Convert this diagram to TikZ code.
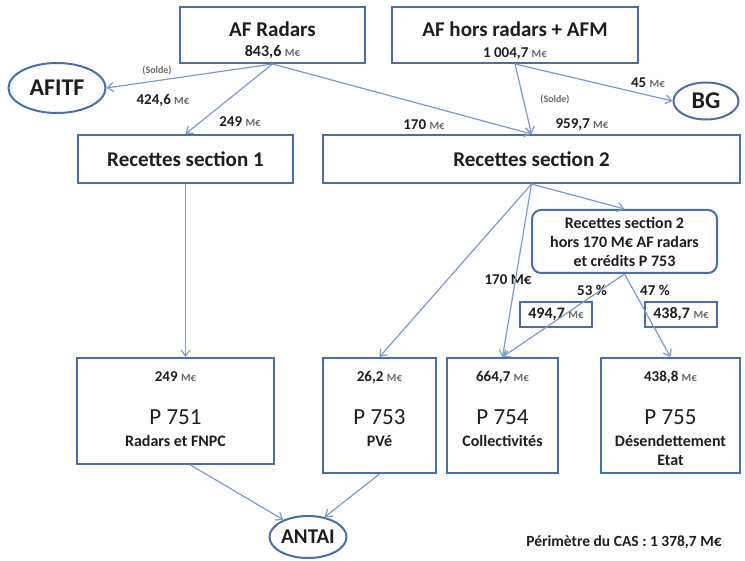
\documentclass[tikz,border=0pt]{standalone}
\usepackage{fontspec}
\setmainfont{Carlito}
\usepackage{xcolor}
\usetikzlibrary{arrows.meta,positioning,calc,shapes.geometric}
\definecolor{boxblue}{HTML}{4A6FA5}
\definecolor{arrblue}{HTML}{7D9AD0}
\definecolor{unitgray}{HTML}{6A6A6A}
\definecolor{ink}{HTML}{1E1E1E}
\tikzset{
  box/.style  = {draw=boxblue, line width=2pt, rectangle, inner sep=0pt},
  rbox/.style = {box, rounded corners=9pt, align=center},
  oval/.style = {draw=boxblue, line width=2pt, ellipse, inner sep=0pt,
                 text=ink, font=\bfseries\fontsize{24}{24}\selectfont},
  flow/.style = {-{Straight Barb[length=6pt,width=9pt]}, draw=arrblue, line width=1.2pt},
  head/.style = {font=\bfseries\fontsize{21}{23}\selectfont, text=ink},
  amt/.style  = {font=\bfseries\fontsize{15}{17}\selectfont, text=ink},
  note/.style = {font=\bfseries\fontsize{10}{12}\selectfont, text=unitgray},
  prog/.style = {font=\fontsize{23}{25}\selectfont, text=ink},
  sub/.style  = {font=\bfseries\fontsize{16}{19}\selectfont, text=ink, align=center},
}
\newcommand{\meur}{{\fontsize{11}{11}\selectfont\color{unitgray}M€}}
\newcommand{\progbox}[7]{%
  \node[box, minimum width=#3, minimum height=#4, anchor=north] (#1) at (#2,357) {};
  \node[amt] (#1a) at (#2,377) {#5};
  \node[prog] (#1n) at (#2,417) {#6};
  \node[sub, anchor=north] (#1s) at (#2,432) {#7};
}

\begin{document}
\begin{tikzpicture}[x=1pt, y=-1pt]
\useasboundingbox (0,0) rectangle (745,561);
\node[box, minimum width=185, minimum height=56] (afr) at (272.5,35) {};
\node[head] (afrt) at (272.5,29) {AF Radars};
\node[amt, font=\bfseries\fontsize{16}{18}\selectfont] (afrv) at (272.5,52) {843,6 \meur};
\node[box, minimum width=246, minimum height=56] (afh) at (515,35) {};
\node[head] (afht) at (515,29) {AF hors radars + AFM};
\node[amt] (afhv) at (515,54) {1 004,7 \meur};
\node[oval, minimum width=97, minimum height=50] (afitf) at (57,88) {AFITF};
\node[oval, minimum width=65, minimum height=37] (bg) at (706,101) {BG};
\node[box, head, minimum width=215, minimum height=48] (rs1) at (185.5,159) {Recettes section 1};
\node[box, head, minimum width=417, minimum height=48] (rs2) at (531.5,159) {Recettes section 2};
\node[rbox, font=\bfseries\fontsize{16}{19}\selectfont, text=ink,
      minimum width=185, minimum height=63] (rb) at (624.5,241.5)
   {Recettes section 2\\hors 170 M€ AF radars\\et crédits P 753};
\node[box, amt, font=\bfseries\fontsize{16}{18}\selectfont, minimum width=72, minimum height=25] (s53) at (556,314.5) {494,7 \meur};
\node[box, amt, font=\bfseries\fontsize{16}{18}\selectfont, minimum width=72, minimum height=25] (s47) at (681,314.5) {438,7 \meur};
\progbox{p751}{175.5}{197}{106}{249 \meur}{P 751}{Radars et FNPC}
\progbox{p753}{379.5}{113}{115}{26,2 \meur}{P 753}{PVé}
\progbox{p754}{502.5}{111}{115}{664,7 \meur}{P 754}{Collectivités}
\progbox{p755}{670.5}{139}{115}{438,8 \meur}{P 755}{Désendettement\\Etat}
\node[oval, font=\bfseries\fontsize{21}{21}\selectfont, minimum width=77, minimum height=42] (antai) at (308,537) {ANTAI};
\node[amt, font=\bfseries\fontsize{15.5}{18}\selectfont] (cas) at (624,542) {Périmètre du CAS : 1 378,7 M€};

\node[note] (sol1) at (157,71) {(Solde)};
\node[amt] (l424) at (163,100) {424,6 \meur};
\node[amt] (l249) at (240,122) {249 \meur};
\node[amt] (l170a) at (424,125) {170 \meur};
\node[note] (sol2) at (555,100) {(Solde)};
\node[amt] (l959) at (582,125) {959,7 \meur};
\node[amt] (l45) at (648,83) {45 \meur};
\node[amt] (l170b) at (508,280) {170 M€};
\node[amt] (l53) at (592,290) {53 \%};
\node[amt] (l47) at (655,290) {47 \%};

\draw[flow] (afr.south) -- (afitf.east);
\draw[flow] (afr.south) -- (rs1.north);
\draw[flow] (afr.south) -- (rs2.north);
\draw[flow] (afh.south) -- (rs2.north);
\draw[flow] (afh.south) -- (bg.west);
\draw[flow] (rs1.south) -- (rs1.south |- p751.north);
\draw[flow] (rs2.south) -- (p753.north);
\draw[flow] (rs2.south) -- (p754.north);
\draw[flow] (rs2.south) -- (rb.north);
\draw[flow] (rb.south) -- (p754.north);
\draw[flow] (rb.south) -- (p755.north);
\draw[flow] ([xshift=15pt]p751.south) -- (antai.145);
\draw[flow] (p753.south) -- (antai.50);
\end{tikzpicture}
\end{document}
